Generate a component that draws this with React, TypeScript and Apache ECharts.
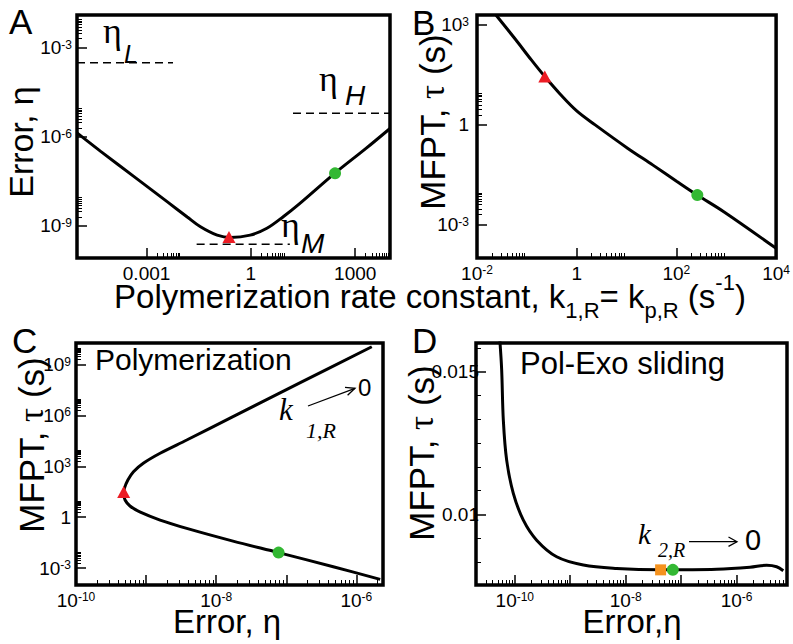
import React, { useEffect, useRef } from 'react';
import * as echarts from 'echarts';

const SANS = '"Liberation Sans", Arial, Helvetica, sans-serif';
const SERIF = '"Liberation Serif", "Times New Roman", serif';
const RED = '#ec1c24';
const GREEN = '#33b833';
const ORANGE = '#f5921e';

// ---------- Panel A: error vs polymerization rate constant (log10 values) ----------
const aLogK = [-5, -4.31, -3.35, -2.4, -1.83, -1.45, -0.97, -0.59, -0.02, 0.46, 0.93, 1.41, 2.41, 3.31, 4.0];
const aLogEta = [-5.87, -6.5, -7.35, -8.19, -8.7, -9.03, -9.31, -9.39, -9.31, -9.08, -8.69, -8.24, -7.23, -6.39, -5.72];
const aTriangle = [-0.63, -9.37];
const aCircle = [2.42, -7.23];
const aLevelNames = ['L', 'H', 'M'];
const aLevelLogEta = [-3.51, -5.21, -9.62];
const aLevelFrom = [-5, 1.21, -1.56];
const aLevelTo = [-2.24, 4, 1.12];
const aXTicks = [-3, 0, 3];
const aXTickLabels = ['0.001', '1', '1000'];
const aYTicks = [-9, -6, -3];

// ---------- Panel B: MFPT vs polymerization rate constant ----------
const bLogK = [-1.62, -1.23, -0.91, -0.64, -0.33, 0, 0.37, 1.02, 1.53, 2.01, 2.42, 2.95, 4.0];
const bLogTau = [3.3, 2.57, 1.95, 1.45, 0.92, 0.42, 0.0, -0.7, -1.21, -1.7, -2.11, -2.61, -3.71];
const bTriangle = [-0.64, 1.45];
const bCircle = [2.42, -2.11];
const bXTicks = [-2, 0, 2, 4];
const bYTicks = [-3, 0, 3];

// ---------- Panel C: MFPT vs error (polymerization) ----------
const cLogEta = [-5.78, -6.8, -7.76, -8.42, -8.8, -9.04, -9.18, -9.26, -9.31, -9.32, -9.3, -9.23, -9.09, -8.8, -8.42, -7.76, -7.11, -6.33, -5.66];
const cLogTau = [10.05, 7.93, 5.93, 4.55, 3.77, 3.18, 2.68, 2.19, 1.7, 1.41, 1.01, 0.66, 0.31, -0.17, -0.66, -1.41, -2.09, -2.92, -3.67];
const cTriangle = [-9.32, 1.48];
const cCircle = [-7.11, -2.09];
const cXTicks = [-10, -9, -8, -7, -6];
const cXLabelTicks = [-10, -8, -6];
const cYTicks = [-3, 0, 3, 6, 9];

// ---------- Panel D: MFPT vs error (Pol-Exo sliding) ----------
const dLogEta = [-10.27, -10.237, -10.207, -10.147, -10.027, -9.846, -9.606, -9.245, -8.764, -8.163, -7.381, -6.359, -5.758, -5.457, -5.277, -5.157];
const dTau = [0.0161, 0.01506, 0.0133, 0.0119, 0.01074, 0.0098, 0.0091, 0.00852, 0.00823, 0.00811, 0.00806, 0.00808, 0.00815, 0.00822, 0.00817, 0.00803];
const dSquare = [-7.37, 0.00806];
const dCircle = [-7.15, 0.00806];
const dXTicks = [-10, -9, -8, -7, -6];
const dXLabelTicks = [-10, -8, -6];
const dYTicks = [0.01, 0.015];
const dYTickLabels = ['0.01', '0.015'];
const dYMinorSteps = [-2, -1, 1, 2, 3, 4, 5, 7];

const minorAfter = (decades: number[]) =>
  decades.flatMap((d) => [2, 3, 4, 5, 6, 7, 8, 9].map((f) => d + Math.log10(f)));

const tickRich = {
  b: { fontSize: 19, fontFamily: SANS, color: '#000', lineHeight: 18 },
  s: { fontSize: 12, fontFamily: SANS, color: '#000', lineHeight: 11, verticalAlign: 'top' },
};

const pow10Label = (v: number) => {
  const n = Math.round(v);
  return n === 0 ? '{b|1}' : `{b|10}{s|${n}}`;
};

function axes(
  dim: 'x' | 'y',
  grid: number,
  min: number,
  max: number,
  majors: number[],
  labelVals: number[],
  minors: number[],
  fmt: (v: number) => string,
  margin = 6
) {
  const base = {
    type: 'value',
    gridIndex: grid,
    min,
    max,
    position: dim === 'x' ? 'bottom' : 'left',
    offset: 0,
    axisLine: { show: false, onZero: false },
    splitLine: { show: false },
  };
  return [
    {
      ...base,
      axisTick: { show: true, inside: true, length: 10, customValues: majors, lineStyle: { color: '#000', width: 1.5 } },
      axisLabel: { show: true, customValues: labelVals, formatter: fmt, margin, rich: tickRich, color: '#000', fontFamily: SANS, fontSize: 19 },
    },
    {
      ...base,
      axisTick: { show: true, inside: true, length: 5, customValues: minors, lineStyle: { color: '#000', width: 1 } },
      axisLabel: { show: false },
    },
  ];
}

const curve = (g: number, xs: number[], ys: number[]) => ({
  type: 'line',
  xAxisIndex: 2 * g,
  yAxisIndex: 2 * g,
  data: xs.map((x, i) => [x, ys[i]]),
  symbol: 'none',
  showSymbol: false,
  smooth: 0.35,
  lineStyle: { color: '#000', width: 3 },
  clip: true,
  silent: true,
  z: 3,
});

const marker = (g: number, pt: number[], symbol: string, size: any, color: string) => ({
  type: 'scatter',
  xAxisIndex: 2 * g,
  yAxisIndex: 2 * g,
  data: [pt],
  symbol,
  symbolSize: size,
  itemStyle: { color, opacity: 1 },
  silent: true,
  z: 5,
});

const txt = (x: number, y: number, text: string, font: string, extra: any = {}) => ({
  type: 'text',
  x,
  y,
  silent: true,
  ...extra.el,
  style: { text, font, fill: '#000', align: 'left', verticalAlign: 'middle', ...(extra.style || {}) },
});

function buildOption() {
  const grids = [
    { left: 77, top: 15, width: 313, height: 243 },
    { left: 477, top: 15, width: 311, height: 243 },
    { left: 76, top: 343, width: 307, height: 242 },
    { left: 476, top: 343, width: 311, height: 242 },
  ].map((g) => ({ ...g, show: true, borderColor: '#000', borderWidth: 3.5, backgroundColor: 'transparent', containLabel: false }));

  const xAxis = [
    ...axes('x', 0, -5, 4, aXTicks, aXTicks, minorAfter(aXTicks), (v) => `{b|${aXTickLabels[aXTicks.indexOf(Math.round(v))]}}`),
    ...axes('x', 1, -2, 4, bXTicks, bXTicks, minorAfter([-2, 0, 2]), pow10Label),
    ...axes('x', 2, -10, -5.62, cXTicks, cXLabelTicks, minorAfter(cXTicks), pow10Label),
    ...axes('x', 3, -10.7, -5.09, dXTicks, dXLabelTicks, minorAfter([-11, ...dXTicks]), pow10Label),
  ];
  const yAxis = [
    ...axes('y', 0, -10.08, -1.9, aYTicks, aYTicks, minorAfter(aYTicks), pow10Label, 5),
    ...axes('y', 1, -4, 3.3, bYTicks, bYTicks, minorAfter(bYTicks), pow10Label, 8),
    ...axes('y', 2, -4, 10.27, cYTicks, cYTicks, minorAfter(cYTicks), pow10Label, 5),
    ...axes(
      'y',
      3,
      0.00753,
      0.016,
      dYTicks,
      dYTicks,
      dYMinorSteps.map((i) => 0.01 + (i * 0.005) / 6),
      (v) => `{b|${dYTickLabels[dYTicks.findIndex((t) => Math.abs(t - v) < 1e-6)]}}`,
      -3
    ),
  ];

  const series: any[] = [
    curve(0, aLogK, aLogEta),
    ...aLevelNames.map((n, i) => ({
      type: 'line',
      name: 'eta_' + n,
      xAxisIndex: 0,
      yAxisIndex: 0,
      data: [
        [aLevelFrom[i], aLevelLogEta[i]],
        [aLevelTo[i], aLevelLogEta[i]],
      ],
      symbol: 'none',
      lineStyle: { color: '#000', width: 1.5, type: [8, 5] },
      silent: true,
      z: 2,
    })),
    marker(0, aTriangle, 'triangle', [13, 12], RED),
    marker(0, aCircle, 'circle', 12, GREEN),
    curve(1, bLogK, bLogTau),
    marker(1, bTriangle, 'triangle', [13, 12], RED),
    marker(1, bCircle, 'circle', 12, GREEN),
    curve(2, cLogEta, cLogTau),
    marker(2, cTriangle, 'triangle', [13, 12], RED),
    marker(2, cCircle, 'circle', 12, GREEN),
    curve(3, dLogEta, dTau),
    marker(3, dSquare, 'rect', 11, ORANGE),
    marker(3, dCircle, 'circle', 12, GREEN),
  ];

  const mfpt = (x: number, y: number) => ({
    type: 'text',
    x,
    y,
    rotation: Math.PI / 2,
    silent: true,
    style: {
      text: '{a|MFPT, }{g|τ}{a| (s)}',
      rich: {
        a: { fontSize: 35, fontFamily: SANS, color: '#000' },
        g: { fontSize: 35, fontFamily: SERIF, color: '#000' },
      },
      align: 'center',
      verticalAlign: 'middle',
    },
  });

  const graphic: any[] = [
    // panel letters
    txt(9, 21, 'A', `35px ${SANS}`),
    txt(412, 22, 'B', `35px ${SANS}`),
    txt(12, 340, 'C', `35px ${SANS}`),
    txt(412, 340, 'D', `35px ${SANS}`),
    // axis titles
    txt(21, 142, 'Error, η', `34px ${SANS}`, { el: { rotation: Math.PI / 2 }, style: { align: 'center' } }),
    mfpt(432, 122),
    mfpt(31, 445),
    mfpt(421, 453),
    {
      type: 'text',
      x: 430,
      y: 296,
      silent: true,
      style: {
        text: '{t|Polymerization rate constant, k}{sub|1,R}{t|= k}{sub|p,R}{t| (s}{sup|-1}{t|)}',
        rich: {
          t: { fontSize: 33, fontFamily: SANS, color: '#000', lineHeight: 50 },
          sub: { fontSize: 22, fontFamily: SANS, color: '#000', lineHeight: 22, verticalAlign: 'bottom' },
          sup: { fontSize: 22, fontFamily: SANS, color: '#000', lineHeight: 22, verticalAlign: 'top' },
        },
        align: 'center',
        verticalAlign: 'middle',
      },
    },
    txt(227, 621, 'Error, η', `33px ${SANS}`, { style: { align: 'center' } }),
    txt(632, 621, 'Error,η', `33px ${SANS}`, { style: { align: 'center' } }),
    // eta level labels in A
    txt(103, 31, 'η', `36px ${SERIF}`),
    txt(124, 54, 'L', `italic 25px ${SANS}`),
    txt(319, 79, 'η', `36px ${SERIF}`),
    txt(345, 95, 'H', `italic 28px ${SANS}`),
    txt(281, 225, 'η', `36px ${SERIF}`),
    txt(301, 243, 'M', `italic 28px ${SANS}`),
    // panel C annotations
    txt(95, 359, 'Polymerization', `30px ${SANS}`),
    txt(279, 409, 'k', `italic 31px ${SERIF}`),
    txt(306, 430, '1,R', `italic 22px ${SERIF}`),
    { type: 'line', silent: true, shape: { x1: 308, y1: 406, x2: 355, y2: 388.3 }, style: { stroke: '#000', lineWidth: 1.3 } },
    { type: 'polyline', silent: true, shape: { points: [[347.6, 395.3], [355, 388.3], [345, 387.4]] }, style: { stroke: '#000', lineWidth: 1.3, fill: 'none' } },
    txt(358, 387, '0', `24px ${SANS}`),
    // panel D annotations
    txt(520, 363, 'Pol-Exo sliding', `31px ${SANS}`),
    txt(638, 534, 'k', `italic 29px ${SERIF}`),
    txt(658, 550, '2,R', `italic 20px ${SERIF}`),
    { type: 'line', silent: true, shape: { x1: 689, y1: 541.7, x2: 737, y2: 541.7 }, style: { stroke: '#000', lineWidth: 1.3 } },
    { type: 'polyline', silent: true, shape: { points: [[728.5, 537], [737, 541.7], [728.5, 546.4]] }, style: { stroke: '#000', lineWidth: 1.3, fill: 'none' } },
    txt(745, 540, '0', `29px ${SANS}`),
  ];

  return {
    animation: false,
    backgroundColor: '#fff',
    grid: grids,
    xAxis,
    yAxis,
    series,
    graphic,
  };
}

export default function App() {
  const ref = useRef<HTMLDivElement>(null);
  useEffect(() => {
    document.body.style.margin = '0';
    const chart = echarts.init(ref.current!, undefined, { renderer: 'svg' });
    chart.setOption(buildOption() as any);
    return () => chart.dispose();
  }, []);
  return <div ref={ref} style={{ position: 'absolute', left: 0, top: 0, width: 793, height: 644 }} />;
}
